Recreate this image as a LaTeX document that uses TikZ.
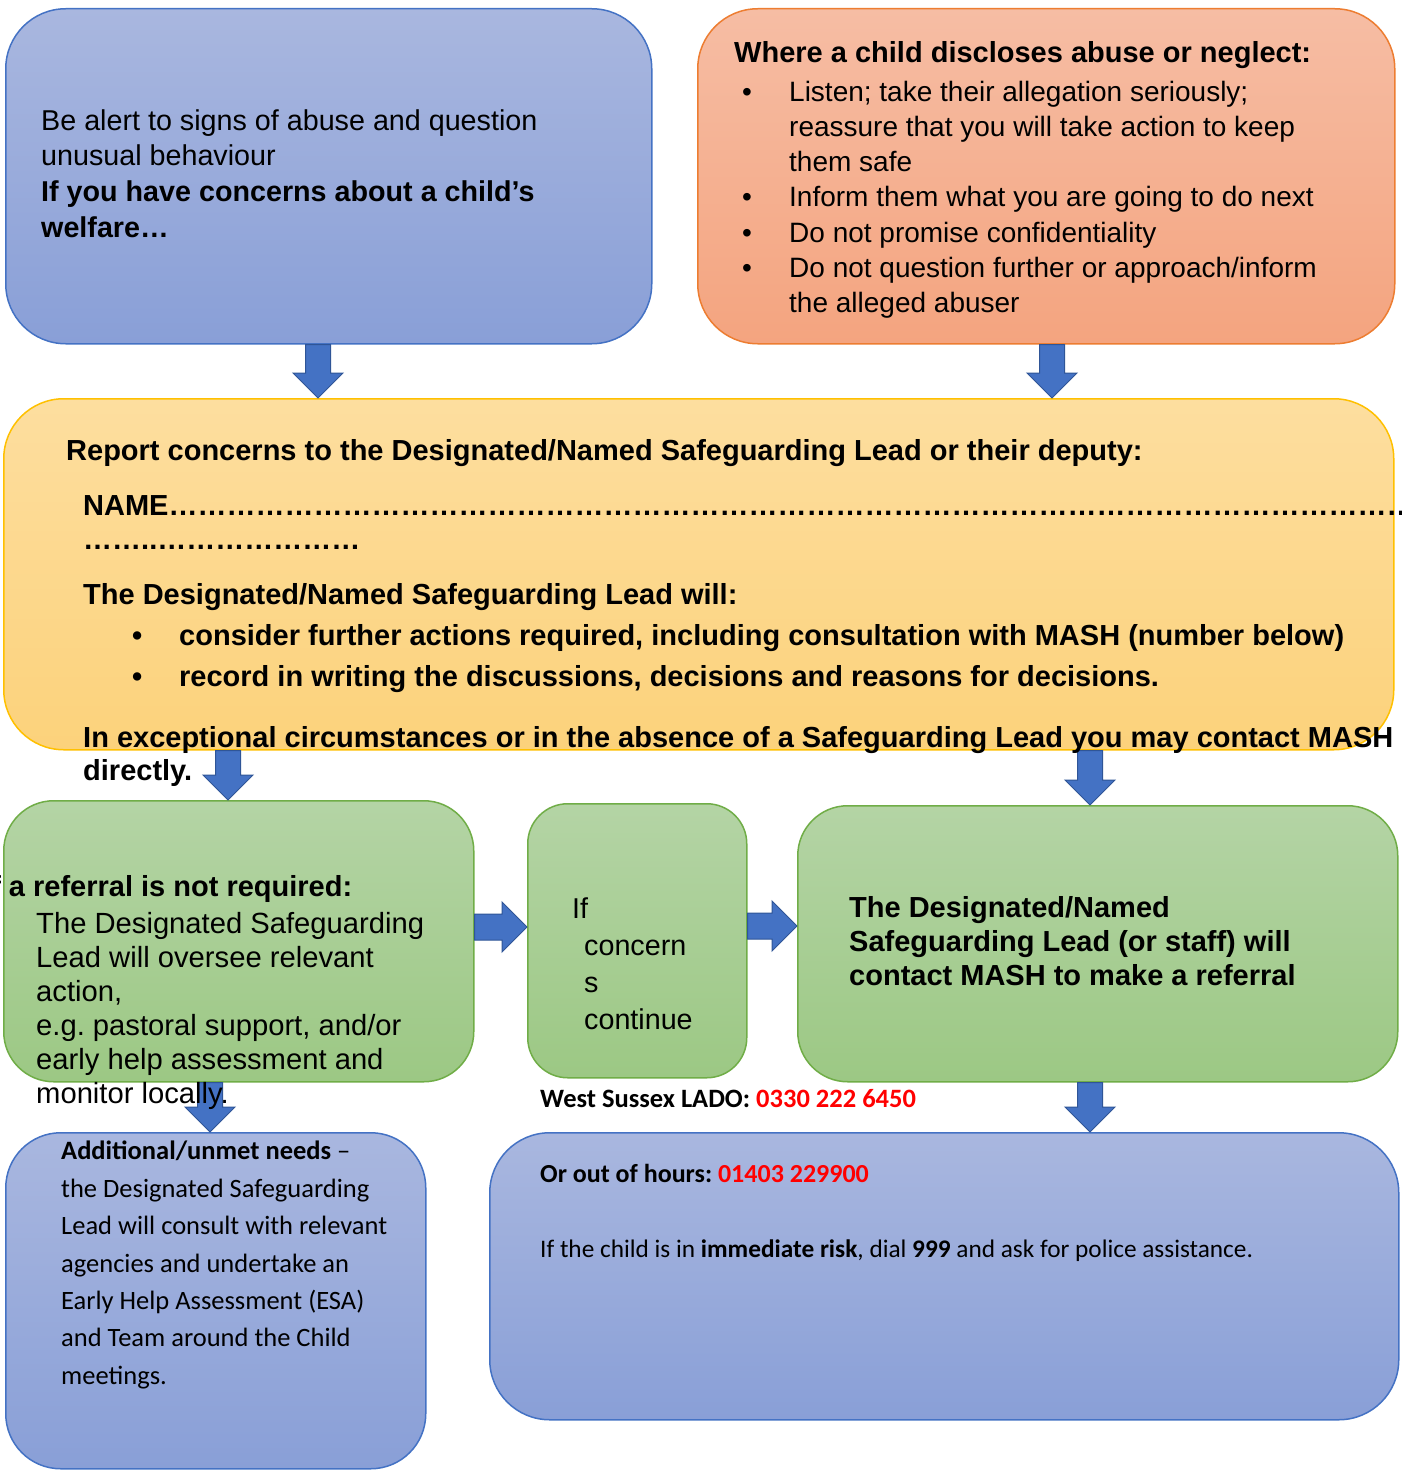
\documentclass[tikz,border=0pt]{standalone}
\usepackage{fontspec}
\setmainfont{Liberation Sans}
\newfontfamily\calibrifont{Carlito}
\usetikzlibrary{calc}
\frenchspacing
\definecolor{blueTop}{HTML}{A9B7DF}
\definecolor{blueBot}{HTML}{899FD7}
\definecolor{blueLine}{HTML}{4472C4}
\definecolor{orTop}{HTML}{F6BDA4}
\definecolor{orBot}{HTML}{F4A47F}
\definecolor{orLine}{HTML}{ED7D31}
\definecolor{yeTop}{HTML}{FDDE9F}
\definecolor{yeBot}{HTML}{FCD27B}
\definecolor{yeLine}{HTML}{FFC000}
\definecolor{grTop}{HTML}{B4D4A5}
\definecolor{grBot}{HTML}{9CC884}
\definecolor{grLine}{HTML}{70AD47}
\definecolor{arrowFill}{HTML}{4472C4}
\definecolor{arrowLine}{HTML}{2F5597}
\definecolor{phoneRed}{HTML}{FF0000}
\tikzset{
  basebox/.style={draw, line width=1.5pt, anchor=north west, inner sep=0pt},
  bluebox/.style={basebox, draw=blueLine, top color=blueTop, bottom color=blueBot},
  orangebox/.style={basebox, draw=orLine, top color=orTop, bottom color=orBot},
  yellowbox/.style={basebox, draw=yeLine, top color=yeTop, bottom color=yeBot},
  greenbox/.style={basebox, draw=grLine, top color=grTop, bottom color=grBot},
  txt/.style={anchor=north west, inner sep=0pt, align=left, text=black},
  blk/.style={fill=arrowFill, draw=arrowLine, line width=1pt, line join=miter},
}
\newcommand\blkdown[2]{%
  \filldraw[blk] let \p1=#1, \p2=#2 in
    (\x1-12.5pt,\y1) -- (\x1+12.5pt,\y1) -- (\x1+12.5pt,\y2+25pt) -- (\x1+25pt,\y2+25pt)
    -- (\x1,\y2) -- (\x1-25pt,\y2+25pt) -- (\x1-12.5pt,\y2+25pt) -- cycle;}
\newcommand\blkright[2]{%
  \filldraw[blk] let \p1=#1, \p2=#2 in
    (\x1,\y1+13pt) -- (\x2-25pt,\y1+13pt) -- (\x2-25pt,\y1+25pt) -- (\x2,\y1)
    -- (\x2-25pt,\y1-25pt) -- (\x2-25pt,\y1-13pt) -- (\x1,\y1-13pt) -- cycle;}
\begin{document}
\begin{tikzpicture}[x=1pt,y=-1pt]
\useasboundingbox[fill=white] (0,0) rectangle (1401,1472);

% boxes
\node[bluebox, rounded corners=60pt, minimum width=646pt, minimum height=335pt] (b1) at (5,8) {};
\node[orangebox, rounded corners=60pt, minimum width=697pt, minimum height=335pt] (b2) at (697,8) {};
\node[yellowbox, rounded corners=60pt, minimum width=1390pt, minimum height=351pt] (b3) at (3,398) {};
\node[greenbox, rounded corners=50pt, minimum width=470pt, minimum height=281pt] (b4) at (3,800) {};
\node[greenbox, rounded corners=40pt, minimum width=219pt, minimum height=274pt] (b5) at (527,803) {};
\node[greenbox, rounded corners=50pt, minimum width=600pt, minimum height=276pt] (b6) at (797,805) {};
\node[bluebox, rounded corners=55pt, minimum width=420pt, minimum height=336pt] (b7) at (5,1132) {};
\node[bluebox, rounded corners=60pt, minimum width=909pt, minimum height=287pt] (b8) at (489,1132) {};

% arrow positions
\coordinate (xa1) at (318,0);
\coordinate (xa2) at (1052,0);
\coordinate (xa3) at (228,0);
\coordinate (xa4) at (1090,0);
\coordinate (xa5) at (210,0);
\coordinate (xa6) at (1090,0);
\coordinate (ya7) at (0,927);
\coordinate (ya8) at (0,926);

\blkdown{(xa1 |- b1.south)}{(xa1 |- b3.north)}
\blkdown{(xa2 |- b2.south)}{(xa2 |- b3.north)}
\blkdown{(xa3 |- b3.south)}{(xa3 |- b4.north)}
\blkdown{(xa4 |- b3.south)}{(xa4 |- b6.north)}
\blkdown{(xa5 |- b4.south)}{(xa5 |- b7.north)}
\blkdown{(xa6 |- b6.south)}{(xa6 |- b8.north)}
\blkright{(b4.east |- ya7)}{(b5.west |- ya7)}
\blkright{(b5.east |- ya8)}{(b6.west |- ya8)}

% box 1 text
\node[txt, font=\fontsize{28.7}{35.7}\selectfont] (t1) at (41,105)
  {\strut Be alert to signs of abuse and question\\
   unusual behaviour\\
   \textbf{If you have concerns about a child’s}\\
   \textbf{welfare…}};

% box 2 text
\node[txt, font=\fontsize{29}{35}\selectfont\bfseries] (t2a) at (734,37.5)
  {\strut Where a child discloses abuse or neglect:};
\node[txt, font=\fontsize{28}{35.2}\selectfont] (t2bul) at (742,76.4)
  {\strut•\\ \strut\\ \strut\\ \strut•\\ \strut•\\ \strut•};
\node[txt, font=\fontsize{28}{35.2}\selectfont] (t2b) at (789,76.4)
  {\strut Listen; take their allegation seriously;\\
   reassure that you will take action to keep\\
   them safe\\
   Inform them what you are going to do next\\
   Do not promise confidentiality\\
   Do not question further or approach/inform\\
   the alleged abuser};

% box 3 text
\node[txt, font=\fontsize{29}{36}\selectfont\bfseries] (t3a) at (66,434.8)
  {\strut Report concerns to the Designated/Named Safeguarding Lead or their deputy:};
\node[txt, font=\fontsize{29}{34}\selectfont\bfseries] (t3b) at (83,491.2)
  {\strut NAME…………………………………………………………………………………………………………………………………\\
   ……..…………………};
\node[txt, font=\fontsize{29}{34}\selectfont\bfseries] (t3c) at (83,580.2)
  {\strut The Designated/Named Safeguarding Lead will:};
\node[txt, font=\fontsize{29}{41}\selectfont\bfseries] (t3bul) at (132,616.3)
  {\strut•\\ \strut•};
\node[txt, font=\fontsize{29}{41}\selectfont\bfseries] (t3d) at (179,616.3)
  {\strut consider further actions required, including consultation with MASH (number below)\\
   record in writing the discussions, decisions and reasons for decisions.};
\node[txt, font=\fontsize{29}{33}\selectfont\bfseries] (t3e) at (83,723.9)
  {\strut In exceptional circumstances or in the absence of a Safeguarding Lead you may contact MASH\\
   directly.};

% box 4 text
\node[txt, font=\fontsize{29}{34}\selectfont\bfseries] (t4a) at (-17,872.2)
  {\strut If a referral is not required:};
\node[txt, font=\fontsize{29.2}{34}\selectfont] (t4b) at (36,909.2)
  {\strut The Designated Safeguarding\\
   Lead will oversee relevant\\
   action,\\
   e.g. pastoral support, and/or\\
   early help assessment and\\
   monitor locally.};

% box 5 text
\node[txt, font=\fontsize{28.7}{37}\selectfont] (t5a) at (572,892.1) {\strut If};
\node[txt, font=\fontsize{28.7}{37}\selectfont] (t5b) at (584,929.1)
  {\strut concern\\ s\\ continue};

% box 6 text
\node[txt, font=\fontsize{29}{34}\selectfont\bfseries] (t6) at (849,893.2)
  {\strut The Designated/Named\\
   Safeguarding Lead (or staff) will\\
   contact MASH to make a referral};

% LADO line
\node[txt, font=\calibrifont\fontsize{26.5}{30}\selectfont\bfseries] (tlado) at (540,1086)
  {\strut West Sussex LADO: \textcolor{phoneRed}{0330 222 6450}};

% box 7 text
\node[txt, font=\calibrifont\fontsize{26.5}{37.4}\selectfont] (t7) at (61,1133.5)
  {\strut\textbf{Additional/unmet needs} –\\
   the Designated Safeguarding\\
   Lead will consult with relevant\\
   agencies and undertake an\\
   Early Help Assessment (ESA)\\
   and Team around the Child\\
   meetings.};

% box 8 text
\node[txt, font=\calibrifont\fontsize{26}{30}\selectfont\bfseries] (t8a) at (540,1161)
  {\strut Or out of hours: \textcolor{phoneRed}{01403 229900}};
\node[txt, font=\calibrifont\fontsize{25.3}{30}\selectfont] (t8b) at (540,1236)
  {\strut If the child is in \textbf{immediate risk}, dial \textbf{999} and ask for police assistance.};
\end{tikzpicture}
\end{document}
